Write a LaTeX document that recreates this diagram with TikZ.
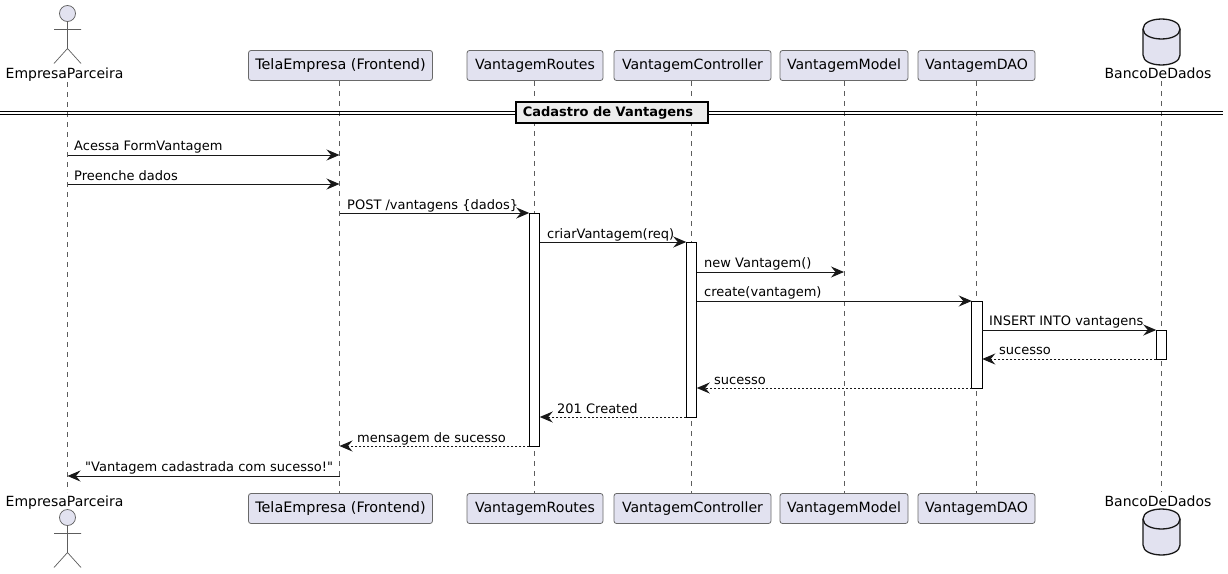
\documentclass[tikz,border=0pt]{standalone}
\usepackage{fontspec}
\setmainfont{DejaVu Sans}
\newfontfamily\plainfont{DejaVu Sans}
\usetikzlibrary{arrows.meta}
\definecolor{pfill}{HTML}{E2E2F0}
\definecolor{pline}{HTML}{181818}
\tikzset{x=1pt,y=-1pt,
  partbox/.style={draw=pline!65,line width=.8pt,fill=pfill,rounded corners=2.5pt,minimum height=30pt,inner sep=0pt,outer sep=0pt,font=\fontsize{14.1}{16}\selectfont,text=black},
  actorname/.style={inner sep=0pt,anchor=base,font=\fontsize{14}{16}\selectfont,text=black},
  lifeline/.style={draw=pline!70,line width=.6pt,dash pattern=on 5pt off 5pt},
  actbar/.style={draw=black,line width=1pt,fill=white,inner sep=0pt,outer sep=0pt,minimum width=10.5pt,anchor=north},
  msg/.style={draw=pline,line width=1pt,-{Stealth[length=13pt,width=11pt,inset=4.5pt]}},
  ret/.style={msg,dash pattern=on 2pt off 2pt},
  msgtext/.style={inner sep=0pt,anchor=base west,font=\fontsize{13}{15}\selectfont,text=black},
  actorline/.style={draw=pline!70,line width=.7pt,fill=pfill},
  dbline/.style={draw=pline,line width=1.3pt,fill=pfill},
  divline/.style={draw=black,line width=1.2pt},
  divbox/.style={draw=black,line width=2pt,fill=black!7,inner sep=0pt,outer sep=0pt,minimum width=192pt,minimum height=21pt,font=\bfseries\fontsize{13}{15}\selectfont,text=black}
}
\newcommand{\actorfig}[2]{% x, head-centre y
  \draw[actorline] (#1,#2) circle[radius=8];
  \draw[actorline,fill=none] (#1,#2+8) -- (#1,#2+35) (#1-13.5,#2+16) -- (#1+13.5,#2+16)
    (#1-13.5,#2+50) -- (#1,#2+35) -- (#1+13.5,#2+50);
}
\newcommand{\dbfig}[2]{% centre x, top y
  \draw[dbline] (#1-18.5,#2+10) .. controls (#1-18.5,#2-3.3) and (#1+18.5,#2-3.3) .. (#1+18.5,#2+10)
    -- (#1+18.5,#2+36) .. controls (#1+18.5,#2+49.3) and (#1-18.5,#2+49.3) .. (#1-18.5,#2+36) -- cycle;
  \draw[dbline,fill=none] (#1-18.5,#2+10) .. controls (#1-18.5,#2+23.3) and (#1+18.5,#2+23.3) .. (#1+18.5,#2+10);
}
\begin{document}
\begin{tikzpicture}
\useasboundingbox[fill=white] (0,0) rectangle (1228,573);
% lifeline positions
\coordinate (lA) at (67.5,0);
\coordinate (lT) at (339.5,0);
\coordinate (lR) at (534,0);
\coordinate (lC) at (691.5,0);
\coordinate (lM) at (844,0);
\coordinate (lD) at (976.5,0);
\coordinate (lB) at (1161,0);
% lifelines
\foreach \l/\s/\e in {lA/82/492,lT/81/493,lR/81/493,lC/81/493,lM/81/493,lD/81/493,lB/81/492}
  \draw[lifeline] (\l |- 0,\s) -- (\l |- 0,\e);
% participants top
\actorfig{67.5}{13.5}
\node[actorname] (actorTop) at (64.5,78) {EmpresaParceira};
\node[partbox,minimum width=184pt,font=\fontsize{14.4}{16}\selectfont] (telaTop) at (340.5,65.5) {TelaEmpresa (Frontend)};
\node[partbox,minimum width=136pt] (routesTop) at (535,65.5) {VantagemRoutes};
\node[partbox,minimum width=157pt] (ctrlTop) at (692.5,65.5) {VantagemController};
\node[partbox,minimum width=128pt] (modelTop) at (844,65.5) {VantagemModel};
\node[partbox,minimum width=117pt] (daoTop) at (976.5,65.5) {VantagemDAO};
\dbfig{1161.5}{19}
\node[actorname] (dbTop) at (1158,78) {BancoDeDados};
% participants bottom
\actorfig{67.5}{517.5}
\node[actorname] (actorBot) at (64.5,506) {EmpresaParceira};
\node[partbox,minimum width=184pt,font=\fontsize{14.4}{16}\selectfont] (telaBot) at (340.5,508.5) {TelaEmpresa (Frontend)};
\node[partbox,minimum width=136pt] (routesBot) at (535,508.5) {VantagemRoutes};
\node[partbox,minimum width=157pt] (ctrlBot) at (692.5,508.5) {VantagemController};
\node[partbox,minimum width=128pt] (modelBot) at (844,508.5) {VantagemModel};
\node[partbox,minimum width=117pt] (daoBot) at (976.5,508.5) {VantagemDAO};
\dbfig{1161.5}{509}
\node[actorname] (dbBot) at (1158,506) {BancoDeDados};
% divider
\coordinate (divL) at (0,0);
\coordinate (divR) at (1223,0);
\draw[divline] (divL |- 0,111.5) -- (divR |- 0,111.5);
\draw[divline] (divL |- 0,114.5) -- (divR |- 0,114.5);
\node[divbox] (title) at (612,112.5) {Cadastro de Vantagens\hspace*{8pt}};
% activations
\node[actbar,minimum height=233pt] (aR) at (534.5,213) {};
\node[actbar,minimum height=175pt] (aC) at (691.5,242) {};
\node[actbar,minimum height=87pt] (aD) at (977,301) {};
\node[actbar,minimum height=29pt] (aB) at (1161.5,330) {};
% messages
\draw[msg] (lA |- 0,155) -- (lT |- 0,155);
\node[msgtext] (m1) at (74,150) {Acessa FormVantagem};
\draw[msg] (lA |- 0,184) -- (lT |- 0,184);
\node[msgtext] (m2) at (74,180) {Preenche dados};
\draw[msg] (lT |- 0,213) -- (aR.north west);
\node[msgtext] (m3) at (347,209) {POST /vantagens \{dados\}};
\draw[msg] (aR.east |- 0,242) -- (aC.north west);
\node[msgtext] (m4) at (547,238) {criarVantagem(req)};
\draw[msg] (aC.east |- 0,272) -- (lM |- 0,272);
\node[msgtext] (m5) at (704,267) {new Vantagem()};
\draw[msg] (aC.east |- 0,301) -- (aD.north west);
\node[msgtext] (m6) at (704,296) {create(vantagem)};
\draw[msg] (aD.east |- 0,330) -- (aB.north west);
\node[msgtext] (m7) at (989,325) {INSERT INTO vantagens};
\draw[ret] (aB.south west) -- (aD.east |- aB.south);
\node[msgtext] (m8) at (999,354) {sucesso};
\draw[ret] (aD.south west) -- (aC.east |- aD.south);
\node[msgtext] (m9) at (714,384) {sucesso};
\draw[ret] (aC.south west) -- (aR.east |- aC.south);
\node[msgtext] (m10) at (557,413) {201 Created};
\draw[ret] (aR.south west) -- (lT |- aR.south);
\node[msgtext] (m11) at (357,442) {mensagem de sucesso};
\draw[msg] (lT |- 0,476) -- (lA |- 0,476);
\node[msgtext] (m12) at (85,471) {\plainfont "Vantagem cadastrada com sucesso!"};
\end{tikzpicture}
\end{document}
